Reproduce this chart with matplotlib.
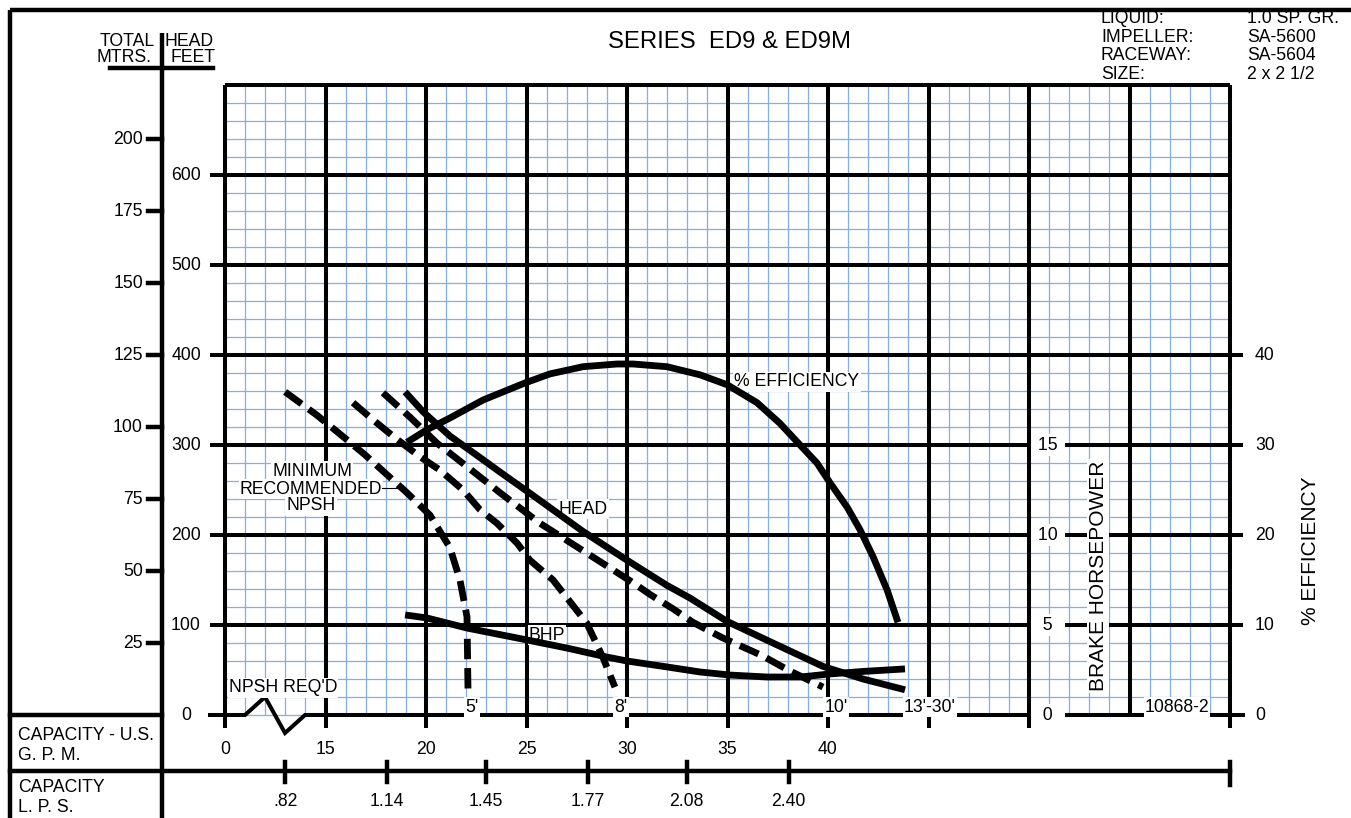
import numpy as np
import matplotlib
matplotlib.use('Agg')
import matplotlib.pyplot as plt
from matplotlib.transforms import blended_transform_factory as blend

plt.rcParams['font.family'] = ['Liberation Sans', 'DejaVu Sans']

# ---------------- data ----------------
head_gpm = [18.96, 19.85, 21.19, 22.69, 23.68, 25.32, 27.81, 30.0, 31.99, 33.13, 34.98,
            37.26, 39.75, 41.74, 43.83]
head_ft = [359, 337, 310, 286, 270, 244, 204, 172, 144, 130, 104, 80, 54, 40, 28]

eff_gpm = [19.05, 20.05, 21.19, 22.84, 24.93, 26.17, 27.81, 29.50, 30.30, 31.99, 33.63,
           34.98, 36.47, 37.61, 38.61, 39.45, 40.10, 40.95, 41.59, 42.24, 42.94, 43.48]
eff_pct = [30.3, 31.7, 33.0, 35.0, 36.9, 37.9, 38.7, 39.0, 39.0, 38.7, 37.8,
           36.7, 34.7, 32.4, 30.0, 28.0, 25.8, 23.1, 20.6, 17.6, 13.9, 10.3]

bhp_gpm = [18.96, 20.05, 22.04, 25.02, 27.01, 29.0, 30.0, 31.99, 33.63, 35.12, 36.97,
           38.61, 40.1, 41.74, 43.83]
bhp_hp = [5.56, 5.39, 4.83, 4.17, 3.72, 3.22, 3.0, 2.67, 2.39, 2.22, 2.11,
          2.11, 2.28, 2.42, 2.56]

npsh5_gpm = [12.99, 14.58, 15.62, 16.97, 18.06, 19.05, 20.2, 21.19, 21.69, 22.04, 22.09]
npsh5_ft = [359, 333, 314, 289, 267, 247, 222, 186, 150, 109, 26]

npsh8_gpm = [16.37, 17.36, 18.46, 19.70, 20.70, 21.84, 22.69, 23.53, 24.53, 25.17, 26.32,
             28.0, 28.8, 29.4]
npsh8_ft = [347, 328, 308, 287, 272, 250, 228, 213, 191, 172, 150, 102, 64, 31]

npsh10_gpm = [17.86, 19.20, 20.55, 22.04, 23.68, 25.67, 27.01, 30.30, 31.14, 32.29, 33.28,
              34.73, 36.72, 38.01, 39.75]
npsh10_ft = [358, 331, 302, 276, 247, 213, 194, 147, 134, 118, 103, 86, 66, 50, 31]

gpm_ticks = [15, 20, 25, 30, 35, 40]
lps_ticks = [0.82, 1.14, 1.45, 1.77, 2.08, 2.40]
lps_labels = ['.82', '1.14', '1.45', '1.77', '2.08', '2.40']
feet_ticks = [0, 100, 200, 300, 400, 500, 600]
meter_ticks = [25, 50, 75, 100, 125, 150, 175, 200]
bhp_ticks = [0, 5, 10, 15]
eff_ticks = [0, 10, 20, 30, 40]

GPM_PER_LPS = 15.85
FT_PER_M = 3.2      # meter scale as drawn on the sheet
FT_PER_BHP = 20     # 5 BHP per 100 ft division
FT_PER_EFF = 10     # 10 % per 100 ft division

# ---------------- figure ----------------
W, H = 1351, 818
fig = plt.figure(figsize=(W / 100, H / 100), dpi=100)
fig.patch.set_facecolor('white')

ov = fig.add_axes([0, 0, 1, 1], zorder=-1)
ov.set_xlim(0, W)
ov.set_ylim(H, 0)
ov.axis('off')

ax = fig.add_axes([225 / W, (H - 715) / H, 1005 / W, 630 / H])
ax.set_xlim(10, 60)
ax.set_ylim(0, 700)
for s in ax.spines.values():
    s.set_visible(False)
ax.set_xticks([])
ax.set_yticks([])

ax_bhp = ax.twinx()
ax_bhp.set_ylim(0, 700 / FT_PER_BHP)
ax_bhp.axis('off')
ax_eff = ax.twinx()
ax_eff.set_ylim(0, 700 / FT_PER_EFF)
ax_eff.axis('off')

BLUE = '#86aee6'
MAJ = 2.9
FS = 12.7

# minor grid
ax.vlines(np.arange(10, 61, 1), 0, 700, color=BLUE, lw=0.9, zorder=1, clip_on=False)
ax.hlines(np.arange(0, 701, 20), 10, 60, color=BLUE, lw=0.9, zorder=1, clip_on=False)
# major grid
ax.vlines([10, 15, 20, 25, 30, 35, 40, 45, 50, 60], -14.4, 700, color='k', lw=MAJ, zorder=2, clip_on=False)
ax.vlines([55], 0, 700, color='k', lw=MAJ, zorder=2, clip_on=False)
ax.hlines([100, 200, 300, 400], 9.25, 60.65, color='k', lw=MAJ, zorder=2, clip_on=False)
ax.hlines([500, 600], 9.25, 60, color='k', lw=MAJ, zorder=2, clip_on=False)
ax.hlines([700], 10, 60, color='k', lw=MAJ, zorder=2, clip_on=False)
# base line with axis break
ax.plot([210, 245, 265, 285, 305, 1243], [715, 715, 697, 733, 715, 715], color='k', lw=MAJ,
        transform=ov.transData, clip_on=False, zorder=3, solid_joinstyle='miter')

# ---------------- curves ----------------
CW = 4.9
DASH = (3.0, 1.3)
ax.plot(head_gpm, head_ft, color='k', lw=CW, zorder=5, solid_capstyle='butt',
        solid_joinstyle='round')
for gx, gy in [(npsh5_gpm, npsh5_ft), (npsh8_gpm, npsh8_ft), (npsh10_gpm, npsh10_ft)]:
    ax.plot(gx, gy, color='k', lw=CW, dashes=DASH, zorder=5)
ax_bhp.plot(bhp_gpm, bhp_hp, color='k', lw=CW, solid_capstyle='butt', solid_joinstyle='round')
ax_eff.plot(eff_gpm, eff_pct, color='k', lw=CW, solid_capstyle='butt', solid_joinstyle='round')

# ---------------- frame / outer rules ----------------
RW = 3.2
ov.plot([10, W], [10, 10], color='k', lw=RW, solid_capstyle='butt')
ov.plot([10, 10], [10, H], color='k', lw=RW, solid_capstyle='butt')
ov.plot([162, 162], [33, H], color='k', lw=RW, solid_capstyle='butt')
ov.plot([110, 213], [68, 68], color='k', lw=RW)
ov.plot([10, 162], [715, 715], color='k', lw=RW)
ov.plot([10, 1230], [771, 771], color='k', lw=RW)
ov.plot([1230, 1230], [762, 785], color='k', lw=RW)

# ---------------- left scales ----------------
tr_left = blend(ov.transData, ax.transData)
for f in feet_ticks:
    ov.text(191 if f == 0 else 201, f, str(f), transform=tr_left, ha='right', va='center',
            fontsize=FS)
for m in meter_ticks:
    ov.plot([148, 162], [m * FT_PER_M] * 2, transform=tr_left, color='k', lw=RW)
    ov.text(143, m * FT_PER_M, str(m), transform=tr_left, ha='right', va='center', fontsize=FS)

ov.text(155, 41, 'TOTAL', ha='right', va='center', fontsize=FS)
ov.text(165, 41, 'HEAD', ha='left', va='center', fontsize=FS)
ov.text(151, 58, 'MTRS.', ha='right', va='center', fontsize=FS)
ov.text(170, 58, 'FEET', ha='left', va='center', fontsize=FS)

# ---------------- bottom scales ----------------
tr_bot = blend(ax.transData, ov.transData)
ov.text(10, 749, '0', transform=tr_bot, ha='center', va='center', fontsize=FS)
for g in gpm_ticks:
    ov.text(g, 749, str(g), transform=tr_bot, ha='center', va='center', fontsize=FS)
for v, lab in zip(lps_ticks, lps_labels):
    ov.plot([v * GPM_PER_LPS] * 2, [762, 782], transform=tr_bot, color='k', lw=RW)
    ov.text(v * GPM_PER_LPS, 801, lab, transform=tr_bot, ha='center', va='center', fontsize=FS)

ov.text(18, 735, 'CAPACITY - U.S.', ha='left', va='center', fontsize=FS)
ov.text(18, 755, 'G. P. M.', ha='left', va='center', fontsize=FS)
ov.text(18, 787, 'CAPACITY', ha='left', va='center', fontsize=FS)
ov.text(18, 807, 'L. P. S.', ha='left', va='center', fontsize=FS)

# ---------------- right scales ----------------
WB = dict(facecolor='white', edgecolor='none', pad=1.5)
tr_bhp = blend(ov.transData, ax_bhp.transData)
for b in bhp_ticks:
    s = (' %d ' if b >= 10 else '  %d  ') % b
    ax.text(1048, b, s, transform=tr_bhp, ha='center', va='center', fontsize=FS,
            bbox=WB, zorder=4, clip_on=False)
tr_eff = blend(ov.transData, ax_eff.transData)
for e in eff_ticks:
    ov.text(1255, e, str(e), transform=tr_eff, ha='left', va='center', fontsize=FS)

ax.text(1098, 576, 'BRAKE HORSEPOWER', transform=ov.transData, rotation=90, ha='center',
        va='center', fontsize=15, bbox=dict(facecolor='white', edgecolor='none', pad=1), zorder=4)
ov.text(1311, 551, '% EFFICIENCY', rotation=90, ha='center', va='center', fontsize=15)

# ---------------- titles ----------------
ov.text(730, 42, 'SERIES  ED9 & ED9M', ha='center', va='center', fontsize=17.2)
for i, (k, v) in enumerate([('LIQUID:', '1.0 SP. GR.'), ('IMPELLER:', 'SA-5600'),
                            ('RACEWAY:', 'SA-5604'), ('SIZE:', '2 x 2 1/2')]):
    y = 18.5 + 18.7 * i
    ov.text(1101, y, k, ha='left', va='center', fontsize=FS)
    ov.text(1247, y, v, ha='left', va='center', fontsize=FS)

# ---------------- curve labels ----------------
def lab(x, y, s, ha='center'):
    ax.text(x, y, s, transform=ov.transData, ha=ha, va='center', fontsize=FS,
            bbox=dict(facecolor='white', edgecolor='none', pad=0.8), zorder=4, clip_on=False)

lab(312, 471, 'MINIMUM')
lab(311, 489, 'RECOMMENDED')
lab(311, 506, 'NPSH')
ax.plot([382, 398], [488, 488], transform=ov.transData, color='k', lw=0.8, zorder=4)
lab(583, 509, 'HEAD')
lab(797, 382, '% EFFICIENCY')
lab(547, 635, 'BHP')
lab(283, 688, "NPSH REQ'D")
lab(472, 707, "5'")
lab(621, 707, "8'")
lab(836, 707, "10'")
lab(930, 707, "13'-30'")
lab(1177, 707, '10868-2')

fig.savefig('out.png', dpi=100)
